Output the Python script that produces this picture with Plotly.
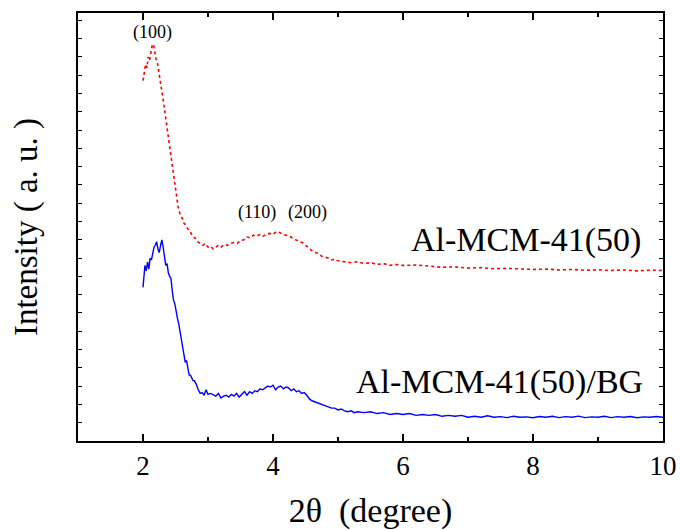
import plotly.graph_objects as go

# Al-MCM-41(50) (red dotted)
x_red = [2.00, 2.02, 2.04, 2.06, 2.08, 2.10, 2.12, 2.14, 2.16, 2.18, 2.20, 2.22, 2.24, 2.26, 2.28,
         2.30, 2.32, 2.34, 2.36, 2.38, 2.40, 2.42, 2.44, 2.46, 2.48, 2.50, 2.52, 2.54, 2.57, 2.60,
         2.63, 2.66, 2.69, 2.72, 2.76, 2.80, 2.84, 2.88, 2.92, 2.96, 3.00, 3.04, 3.08, 3.12, 3.16,
         3.20, 3.25, 3.30, 3.35, 3.40, 3.45, 3.50, 3.55, 3.60, 3.65, 3.70, 3.75, 3.80, 3.85, 3.90,
         3.95, 4.00, 4.05, 4.10, 4.15, 4.20, 4.25, 4.30, 4.35, 4.40, 4.45, 4.50, 4.55, 4.60, 4.65,
         4.70, 4.75, 4.80, 4.85, 4.90, 4.95, 5.00, 5.10, 5.20, 5.30, 5.40, 5.50, 5.60, 5.70, 5.80,
         5.90, 6.00, 6.20, 6.40, 6.60, 6.80, 7.00, 7.20, 7.40, 7.60, 7.80, 8.00, 8.20, 8.40, 8.60,
         8.80, 9.00, 9.20, 9.40, 9.60, 9.80, 10.00]
y_red = [19.7, 20.2, 20.6, 20.4, 21.0, 20.8, 21.3, 21.6, 21.7, 21.2, 20.9, 20.7, 20.3, 19.8, 19.3,
         18.9, 18.4, 17.9, 17.3, 16.8, 16.3, 15.9, 15.5, 15.0, 14.5, 14.0, 13.4, 12.8, 12.4, 12.2,
         11.9, 11.8, 11.6, 11.5, 11.2, 11.1, 10.9, 10.8, 10.7, 10.8, 10.6, 10.65, 10.5, 10.6, 10.7,
         10.6, 10.75, 10.7, 10.8, 10.85, 10.8, 10.95, 11.0, 11.15, 11.1, 11.25, 11.2, 11.3, 11.2, 11.3,
         11.35, 11.3, 11.45, 11.4, 11.3, 11.25, 11.2, 11.1, 11.0, 10.9, 10.85, 10.7, 10.5, 10.4, 10.3,
         10.25, 10.1, 10.05, 10.0, 9.9, 9.95, 9.85, 9.8, 9.75, 9.8, 9.7, 9.75, 9.65, 9.7, 9.6,
         9.65, 9.6, 9.62, 9.55, 9.5, 9.52, 9.45, 9.48, 9.42, 9.44, 9.4, 9.38, 9.4, 9.35, 9.38,
         9.33, 9.36, 9.32, 9.35, 9.3, 9.34, 9.32]

# Al-MCM-41(50)/BG (blue solid)
x_blue = [2.00, 2.03, 2.05, 2.07, 2.09, 2.11, 2.13, 2.15, 2.17, 2.19, 2.21, 2.23, 2.25, 2.27, 2.29,
          2.31, 2.33, 2.35, 2.37, 2.39, 2.41, 2.43, 2.45, 2.47, 2.49, 2.51, 2.53, 2.55, 2.57, 2.59,
          2.61, 2.63, 2.65, 2.67, 2.69, 2.71, 2.73, 2.75, 2.77, 2.79, 2.82, 2.85, 2.88, 2.91, 2.94,
          2.97, 3.00, 3.04, 3.08, 3.12, 3.16, 3.20, 3.24, 3.28, 3.32, 3.36, 3.40, 3.44, 3.48, 3.52,
          3.56, 3.60, 3.64, 3.68, 3.72, 3.76, 3.80, 3.84, 3.88, 3.92, 3.96, 4.00, 4.04, 4.08, 4.12,
          4.16, 4.20, 4.24, 4.28, 4.32, 4.36, 4.40, 4.44, 4.48, 4.52, 4.56, 4.60, 4.64, 4.68, 4.72,
          4.76, 4.80, 4.85, 4.90, 4.95, 5.00, 5.05, 5.10, 5.15, 5.20, 5.25, 5.30, 5.40, 5.50, 5.60,
          5.70, 5.80, 5.90, 6.00, 6.10, 6.20, 6.30, 6.40, 6.50, 6.60, 6.70, 6.80, 6.90, 7.00, 7.10,
          7.20, 7.30, 7.40, 7.50, 7.60, 7.70, 7.80, 7.90, 8.00, 8.10, 8.20, 8.30, 8.40, 8.50, 8.60,
          8.70, 8.80, 8.90, 9.00, 9.10, 9.20, 9.30, 9.40, 9.50, 9.60, 9.70, 9.80, 9.90, 10.00]
y_blue = [8.4, 9.6, 9.3, 9.8, 9.4, 10.0, 9.9, 10.3, 10.6, 10.7, 10.9, 10.5, 10.3, 10.7, 11.0,
          10.6, 10.0, 9.6, 9.7, 9.2, 9.0, 8.9, 8.2, 7.7, 7.5, 7.0, 6.7, 6.4, 6.0, 5.6,
          5.2, 4.8, 4.3, 4.4, 3.9, 3.6, 3.6, 3.4, 3.3, 3.3, 3.1, 2.8, 2.6, 2.65, 2.5,
          2.8, 2.55, 2.6, 2.5, 2.45, 2.6, 2.35, 2.45, 2.5, 2.4, 2.55, 2.45, 2.6, 2.4, 2.55,
          2.7, 2.5, 2.7, 2.6, 2.75, 2.7, 2.85, 2.8, 2.9, 3.0, 2.95, 3.05, 2.8, 2.95, 3.0,
          2.85, 2.95, 2.9, 2.75, 2.85, 2.7, 2.75, 2.6, 2.65, 2.5, 2.3, 2.2, 2.15, 2.1, 2.05,
          2.0, 1.95, 1.85, 1.8, 1.8, 1.7, 1.75, 1.65, 1.6, 1.65, 1.55, 1.6, 1.55, 1.6, 1.5,
          1.55, 1.45, 1.5, 1.45, 1.5, 1.4, 1.45, 1.4, 1.45, 1.35, 1.4, 1.35, 1.4, 1.3, 1.35,
          1.3, 1.38, 1.3, 1.33, 1.28, 1.35, 1.3, 1.32, 1.27, 1.34, 1.3, 1.35, 1.28, 1.33, 1.3,
          1.36, 1.28, 1.32, 1.3, 1.35, 1.28, 1.33, 1.3, 1.34, 1.27, 1.32, 1.3, 1.34, 1.3]

x_tickvals = [2, 4, 6, 8, 10]
x_ticktext = ["2", "4", "6", "8", "10"]

peak_labels = ["(100)", "(110)", "(200)"]
peak_x = [2.15, 3.76, 4.53]
peak_y = [22.35, 12.5, 12.5]

series_names = ["Al-MCM-41(50)", "Al-MCM-41(50)/BG"]
series_label_x = [9.69, 9.72]
series_label_y = [11.0, 3.2]

FONT = "'Liberation Serif', 'Times New Roman', Times, serif"

fig = go.Figure()
fig.add_trace(go.Scatter(x=x_red, y=y_red, mode="lines", name=series_names[0],
                         line=dict(color="#ff0000", width=1.6, dash="dot")))
fig.add_trace(go.Scatter(x=x_blue, y=y_blue, mode="lines", name=series_names[1],
                         line=dict(color="#0000ff", width=1.4)))

for t, x, y in zip(peak_labels, peak_x, peak_y):
    fig.add_annotation(x=x, y=y, text=t, showarrow=False,
                       font=dict(family=FONT, size=18, color="black"))

for t, x, y in zip(series_names, series_label_x, series_label_y):
    fig.add_annotation(x=x, y=y, text=t, showarrow=False, xanchor="right",
                       font=dict(family=FONT, size=34, color="black"))

fig.update_layout(
    width=680, height=530,
    margin=dict(l=78, r=17, t=13, b=89),
    paper_bgcolor="white", plot_bgcolor="white",
    showlegend=False,
    font=dict(family=FONT, color="black"),
    xaxis=dict(range=[1, 10], tickvals=x_tickvals, ticktext=x_ticktext, automargin=False,
               ticks="inside", ticklen=7, tickwidth=2, tickcolor="black",
               minor=dict(ticks="inside", ticklen=4, tickwidth=1.5, dtick=1, tick0=1, tickcolor="black"),
               showline=True, linecolor="black", linewidth=2, mirror="allticks",
               showgrid=False, zeroline=False,
               tickfont=dict(family=FONT, size=27, color="black"),
               title=dict(text="2θ  (degree)", font=dict(family=FONT, size=34, color="black"), standoff=20)),
    yaxis=dict(range=[0, 23.4], dtick=1, tick0=0, automargin=False,
               ticks="inside", ticklen=4, tickwidth=1.2, tickcolor="black",
               showticklabels=False,
               showline=True, linecolor="black", linewidth=2, mirror="allticks",
               showgrid=False, zeroline=False,
               title=dict(text="Intensity ( a. u. )", font=dict(family=FONT, size=33, color="black"), standoff=28)),
)

fig.write_html("out.html", config={"displayModeBar": False},
               post_script="document.body.style.margin='0';")
